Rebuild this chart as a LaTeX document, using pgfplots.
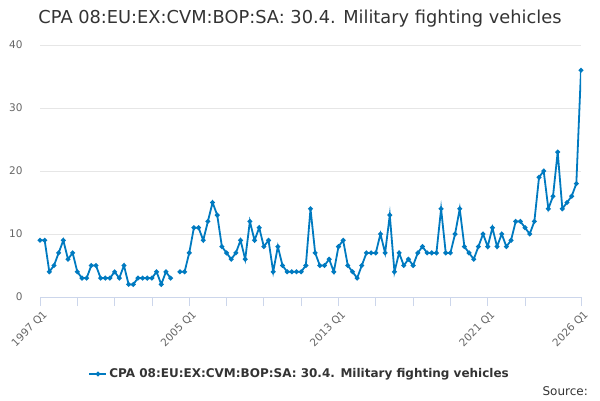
\documentclass[border=0pt]{standalone}
\usepackage{pgfplots}
\pgfplotsset{compat=1.18}
\usepackage{fontspec}
\setmainfont{DejaVu Sans}
\definecolor{series}{RGB}{0,122,192}
\definecolor{gridc}{RGB}{230,230,230}
\definecolor{axisc}{RGB}{204,214,235}
\definecolor{labc}{RGB}{102,102,102}
\definecolor{titc}{RGB}{51,51,51}
\begin{document}
\begin{tikzpicture}[x=1pt,y=1pt]
\useasboundingbox (0,0) rectangle (600,400);
\begin{axis}[
  at={(40pt,103pt)}, anchor=south west,
  scale only axis, width=541pt, height=252pt,
  xmin=0, xmax=116, ymin=0, ymax=40,
  axis x line*=bottom, axis y line*=left,
  x axis line style={draw=axisc, line width=0.8pt},
  y axis line style={draw=none},
  ytick={0,10,20,30,40},
  ymajorgrids, grid style={draw=gridc, line width=0.8pt},
  y tick style={draw=none},
  xtick={0,32,64,96,116},
  xticklabels={1997 Q1,2005 Q1,2013 Q1,2021 Q1,2026 Q1},
  minor xtick={8,16,24,40,48,56,72,80,88,104},
  x tick style={draw=axisc, line width=0.8pt},
  tick align=outside, major tick length=9pt, minor tick length=9pt,
  /pgf/number format/assume math mode=true,
  ticklabel style={font=\fontsize{10.5}{13}\selectfont, text=labc},
  yticklabel style={anchor=east, xshift=-5pt},
  xticklabel style={rotate=45, anchor=north east, inner sep=1pt, yshift=-3pt},
  unbounded coords=jump,
  legend style={at={(0.48,-0.3056)}, anchor=center, draw=none, fill=none,
    font=\fontsize{12}{15}\selectfont\bfseries, text=titc},
  legend cell align=left,
]
\addplot[series, line width=1.8pt, mark=*, mark size=1.4pt] coordinates {
(0,9)(1,9)(2,4)(3,5)(4,7)(5,9)(6,6)(7,7)(8,4)(9,3)(10,3)(11,5)(12,5)(13,3)(14,3)(15,3)
(16,4)(17,3)(18,5)(19,2)(20,2)(21,3)(22,3)(23,3)(24,3)(25,4)(26,2)(27,4)(28,3)(29,nan)
(30,4)(31,4)(32,7)(33,11)(34,11)(35,9)(36,12)(37,15)(38,13)(39,8)(40,7)(41,6)(42,7)(43,9)
(44,6)(45,12)(46,9)(47,11)(48,8)(49,9)(50,4)(51,8)(52,5)(53,4)(54,4)(55,4)(56,4)(57,5)
(58,14)(59,7)(60,5)(61,5)(62,6)(63,4)(64,8)(65,9)(66,5)(67,4)(68,3)(69,5)(70,7)(71,7)
(72,7)(73,10)(74,7)(75,13)(76,4)(77,7)(78,5)(79,6)(80,5)(81,7)(82,8)(83,7)(84,7)(85,7)
(86,14)(87,7)(88,7)(89,10)(90,14)(91,8)(92,7)(93,6)(94,8)(95,10)(96,8)(97,11)(98,8)(99,10)
(100,8)(101,9)(102,12)(103,12)(104,11)(105,10)(106,12)(107,19)(108,20)(109,14)(110,16)
(111,23)(112,14)(113,15)(114,16)(115,18)(116,36)
};
\addlegendentry{CPA 08:EU:EX:CVM:BOP:SA: 30.4. Military fighting vehicles}
\end{axis}
\node[anchor=base, text=titc, font=\fontsize{17.8}{20}\selectfont, inner sep=0pt] at (300,376) {CPA 08:EU:EX:CVM:BOP:SA: 30.4. Military fighting vehicles};
\node[anchor=base east, text=titc, font=\fontsize{12}{14}\selectfont, inner sep=0pt] at (588,5) {Source:};
\end{tikzpicture}
\end{document}
